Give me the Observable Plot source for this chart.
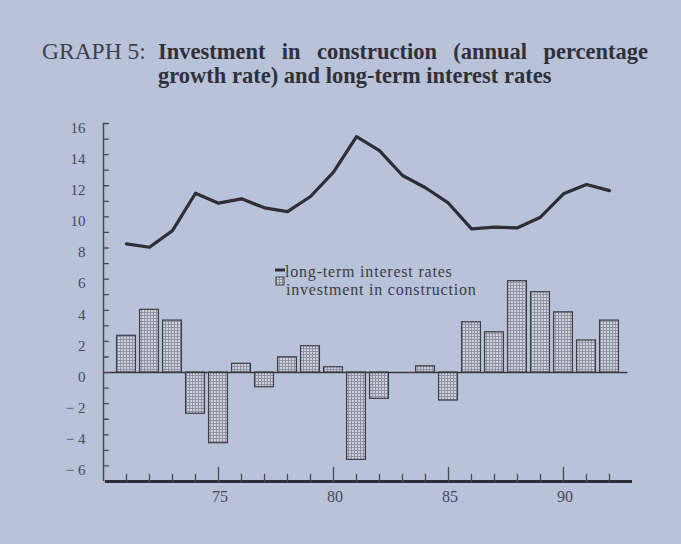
<!DOCTYPE html>
<html>
<head>
<meta charset="utf-8">
<script src="https://cdn.jsdelivr.net/npm/d3@7"></script>
<script src="https://cdn.jsdelivr.net/npm/@observablehq/plot@0.6"></script>
<style>
  html, body { margin: 0; padding: 0; background: #b8c2d9; }
  #wrap { width: 681px; height: 544px; position: relative; overflow: hidden; background: #b8c2d9; }
  #title { position: relative; height: 105px; font-family: "Liberation Serif", serif; color: #303038; }
  #lead { position: absolute; left: 42px; top: 39px; font-size: 23.5px; line-height: 24px; font-weight: normal; color: #40404a; white-space: nowrap; }
  #body { position: absolute; left: 158px; top: 40px; width: 490px; font-size: 22.5px; line-height: 24px; font-weight: bold; text-align: justify; }
  svg { display: block; }
</style>
</head>
<body>
<div id="wrap">
  <div id="title">
    <div id="lead">GRAPH 5:</div>
    <div id="body">Investment in construction (annual percentage growth rate) and long-term interest rates</div>
  </div>
  <div id="chart"></div>
</div>
<script>
// ---- data ----
const years = [71,72,73,74,75,76,77,78,79,80,81,82,83,84,85,86,87,88,89,90,91,92];
const interestRates = [8.27,8.05,9.12,11.52,10.88,11.16,10.58,10.34,11.31,12.87,15.16,14.26,12.66,11.87,10.88,9.23,9.34,9.30,9.98,11.48,12.08,11.69];
const investment = [2.36,4.03,3.34,-2.65,-4.54,0.56,-0.94,0.98,1.69,0.34,-5.61,-1.69,0,0.40,-1.80,3.23,2.59,5.87,5.16,3.87,2.06,3.34];
const xLabels = [75,80,85,90];
const yLabels = [-6,-4,-2,0,2,4,6,8,10,12,14,16];
const yMinorTicks = [-6,-5,-4,-3,-2,-1,0,1,2,3,4,5,6,7,8,9,10,11,12,13,14,15,16];
const xDomain = [70, 93];
const yDomain = [-7, 16];
const seriesNames = ["long-term interest rates", "investment in construction"];

const rows = years.map((y, i) => ({year: y, rate: interestRates[i], inv: investment[i]}));
const barRows = rows.filter(d => d.inv !== 0);
const minorYears = years.filter(y => !xLabels.includes(y));

const ink = "#2e2e34";
const axisInk = "#4a4a52";
const tickShape = {draw(context, l) { context.moveTo(0, 0); context.lineTo(0, -l); }};

const chart = Plot.plot({
  width: 681,
  height: 439,
  marginLeft: 103,
  marginRight: 49,
  marginTop: 18,
  marginBottom: 63,
  style: {background: "transparent", fontFamily: "Liberation Serif, serif", color: axisInk},
  x: {domain: xDomain, label: null},
  y: {domain: yDomain, label: null},
  marks: [
    Plot.rect(barRows, {x1: d => d.year - 0.41, x2: d => d.year + 0.41, y1: 0, y2: "inv",
      fill: "url(#grid)", stroke: "#3c3c44", strokeWidth: 1.2}),
    Plot.ruleY([0], {x1: xDomain[0], x2: 92.8, stroke: "#3a3a42", strokeWidth: 1.6}),
    Plot.line(rows, {x: "year", y: "rate", stroke: ink, strokeWidth: 3.2, strokeLinejoin: "round"}),
    // y axis line and inward ticks
    Plot.ruleX([xDomain[0]], {y1: yDomain[0], y2: yDomain[1], stroke: axisInk, strokeWidth: 1.5}),
    Plot.vector(yMinorTicks, {x: xDomain[0], y: d => d, length: 5, rotate: 90, anchor: "start",
      shape: tickShape, stroke: axisInk, strokeWidth: 1.3}),
    // x axis line and inward ticks
    Plot.ruleY([yDomain[0]], {x1: xDomain[0] + 0.08, x2: xDomain[1], stroke: "#2e2e34", strokeWidth: 3}),
    Plot.vector(minorYears, {x: d => d, y: yDomain[0], length: 7, rotate: 0, anchor: "start",
      shape: tickShape, stroke: axisInk, strokeWidth: 1.3}),
    Plot.vector(xLabels, {x: d => d, y: yDomain[0], length: 14, rotate: 0, anchor: "start",
      shape: tickShape, stroke: axisInk, strokeWidth: 1.3}),
    Plot.axisX({ticks: xLabels, tickSize: 0, tickPadding: 9, fontSize: 16, dx: 1.5, label: null, tickFormat: d => String(d)}),
    Plot.axisY({ticks: yLabels, tickSize: 0, tickPadding: 18, fontSize: 15, dy: 4.5, label: null,
      tickFormat: d => d < 0 ? "\u2212 " + (-d) : String(d)})
  ]
});

const svg = d3.select(chart);
const defs = svg.insert("defs", ":first-child");
const pat = defs.append("pattern").attr("id", "grid").attr("patternUnits", "userSpaceOnUse")
  .attr("width", 3).attr("height", 3);
pat.append("rect").attr("width", 3).attr("height", 3).attr("fill", "#cfd2dc");
pat.append("path").attr("d", "M0,0.5H3M0.5,0V3").attr("stroke", "#8f93a1").attr("stroke-width", 1);

// legend
const lg = svg.append("g").attr("font-family", "Liberation Serif, serif").attr("fill", "#3c3c44")
  .attr("text-anchor", "start");
lg.append("line").attr("x1", 275).attr("x2", 285).attr("y1", 165).attr("y2", 165)
  .attr("stroke", ink).attr("stroke-width", 3);
lg.append("rect").attr("x", 276).attr("y", 172).attr("width", 8).attr("height", 8)
  .attr("fill", "url(#grid)").attr("stroke", "#3c3c44").attr("stroke-width", 1);
lg.append("text").attr("x", 285).attr("y", 171.5).attr("font-size", 16).attr("letter-spacing", 0.8).text(seriesNames[0]);
lg.append("text").attr("x", 286).attr("y", 190).attr("font-size", 16).attr("letter-spacing", 0.8).text(seriesNames[1]);

document.getElementById("chart").appendChild(chart);
</script>
</body>
</html>
